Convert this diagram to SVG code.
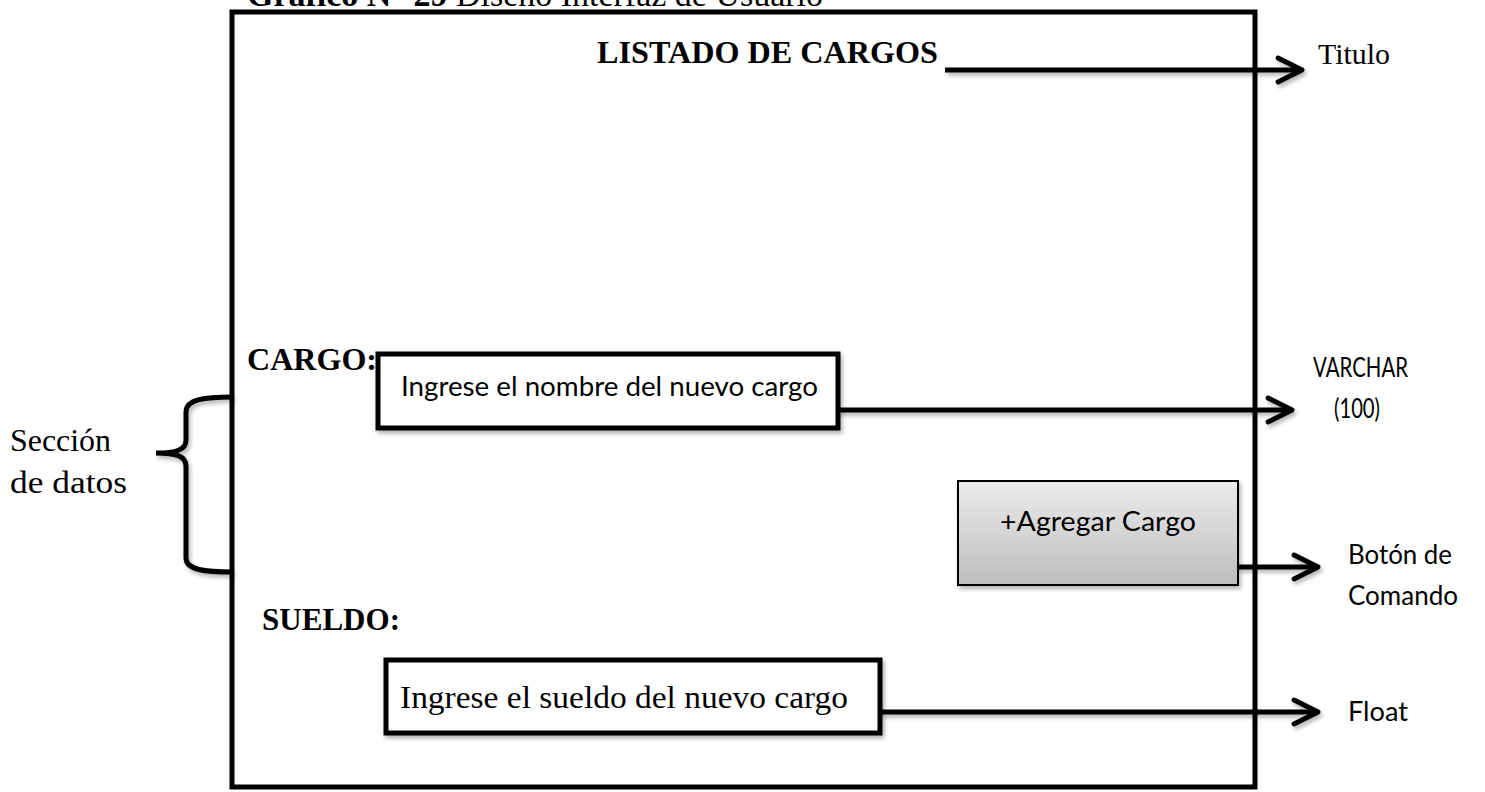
<svg xmlns="http://www.w3.org/2000/svg" width="1485" height="792" viewBox="0 0 1485 792">
<style>
.serif{font-family:"Liberation Serif","Times New Roman",serif;fill:#000}
.bold{font-weight:bold}
.sans{font-family:Lato,"Liberation Sans",sans-serif;fill:#000}
.line{stroke:#000;stroke-width:5;fill:none}
.box{fill:#fff;stroke:#000;stroke-width:5}
</style>
<defs>
<marker id="arr" viewBox="0 0 10 10" refX="9" refY="5" markerWidth="6" markerHeight="6.5" orient="auto" markerUnits="strokeWidth">
<path d="M1,1 L9,5 L1,9" fill="none" stroke="#000" stroke-width="1.6" stroke-linecap="round" stroke-linejoin="round"/>
</marker>
<linearGradient id="btn" x1="0" y1="0" x2="0" y2="1">
<stop offset="0" stop-color="#ececec"/>
<stop offset="1" stop-color="#bdbdbd"/>
</linearGradient>
<filter id="sh" x="-10%" y="-10%" width="130%" height="140%">
<feDropShadow dx="2" dy="3" stdDeviation="2" flood-color="#000" flood-opacity="0.3"/>
</filter>
</defs>

<text class="serif" x="247" y="6" font-size="33" textLength="576" lengthAdjust="spacingAndGlyphs"><tspan class="bold">Grafico N° 29</tspan>  Diseño Interfaz de Usuario</text>

<g id="frame">
<rect x="232" y="12" width="1023" height="775" fill="none" stroke="#000" stroke-width="5"/>
</g>

<g id="title">
<text class="serif bold" x="597" y="63" font-size="32" textLength="341" lengthAdjust="spacingAndGlyphs">LISTADO DE CARGOS</text>
</g>

<g id="cargo-input">
<rect class="box" x="378" y="354" width="460" height="74" filter="url(#sh)"/>
<text class="sans" x="401" y="396" font-size="27" textLength="417" lengthAdjust="spacingAndGlyphs">Ingrese el nombre del nuevo cargo</text>
</g>

<g id="cargo-label">
<text class="serif bold" x="247" y="370" font-size="32" textLength="130" lengthAdjust="spacingAndGlyphs">CARGO:</text>
</g>

<g id="button">
<rect x="958" y="481" width="280" height="104" fill="url(#btn)" stroke="#000" stroke-width="2" filter="url(#sh)"/>
<text class="sans" x="1000" y="531" font-size="27" textLength="196" lengthAdjust="spacingAndGlyphs">+Agregar Cargo</text>
</g>

<g id="sueldo-label">
<text class="serif bold" x="262" y="630" font-size="32" textLength="138" lengthAdjust="spacingAndGlyphs">SUELDO:</text>
</g>

<g id="sueldo-input">
<rect class="box" x="386" y="660" width="494" height="73" filter="url(#sh)"/>
<text class="serif" x="400" y="708" font-size="32" textLength="448" lengthAdjust="spacingAndGlyphs">Ingrese el sueldo del nuevo cargo</text>
</g>

<g id="brace">
<path class="line" d="M233,397 C205,397 186,399 186,412 L186,440 C186,450 176,453 156,453 C176,453 186,456 186,466 L186,558 C186,570 205,572 233,572" filter="url(#sh)"/>
</g>

<g id="side-labels">
<text class="serif" x="10" y="451" font-size="31" textLength="101" lengthAdjust="spacingAndGlyphs">Sección</text>
<text class="serif" x="10" y="493" font-size="31" textLength="117" lengthAdjust="spacingAndGlyphs">de datos</text>
<text class="serif" x="1318" y="64" font-size="30" textLength="72" lengthAdjust="spacingAndGlyphs">Titulo</text>
<text class="sans" x="1313" y="377" font-size="26" textLength="95" lengthAdjust="spacingAndGlyphs">VARCHAR</text>
<text class="sans" x="1334" y="418" font-size="26" textLength="46" lengthAdjust="spacingAndGlyphs">(100)</text>
<text class="sans" x="1348" y="564" font-size="26" textLength="104" lengthAdjust="spacingAndGlyphs">Botón de</text>
<text class="sans" x="1348" y="605" font-size="26" textLength="110" lengthAdjust="spacingAndGlyphs">Comando</text>
<text class="sans" x="1348" y="721" font-size="27" textLength="60" lengthAdjust="spacingAndGlyphs">Float</text>
</g>

<g id="connectors" filter="url(#sh)">
<line class="line" x1="945" y1="70" x2="1302" y2="70" marker-end="url(#arr)"/>
<line class="line" x1="838" y1="410" x2="1292" y2="410" marker-end="url(#arr)"/>
<line class="line" x1="1238" y1="567" x2="1318" y2="567" marker-end="url(#arr)"/>
<line class="line" x1="880" y1="712" x2="1318" y2="712" marker-end="url(#arr)"/>
</g>
</svg>
